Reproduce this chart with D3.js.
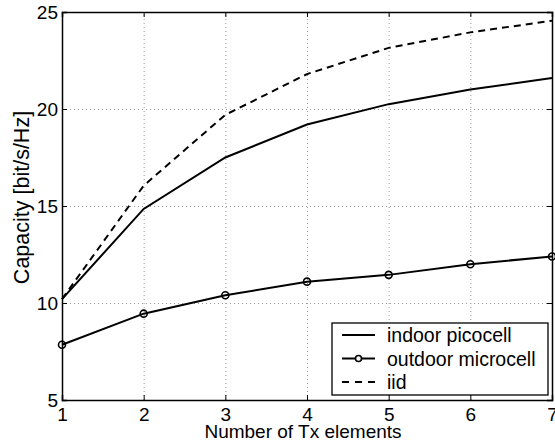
<!DOCTYPE html>
<html>
<head>
<meta charset="utf-8">
<script src="https://cdn.jsdelivr.net/npm/d3@7"></script>
<style>
  body { margin: 0; background: #fff; }
  svg { display: block; font-family: "Liberation Sans", Arial, Helvetica, sans-serif; }
</style>
</head>
<body>
<svg id="chart" width="555" height="447"></svg>
<script>
// Capacity versus number of transmit elements
const txElements = [1, 2, 3, 4, 5, 6, 7];
const indoorPicocell = [10.2, 14.85, 17.5, 19.2, 20.25, 21.0, 21.6];
const outdoorMicrocell = [7.85, 9.45, 10.4, 11.1, 11.45, 12.0, 12.4];
const iid = [10.2, 16.05, 19.7, 21.8, 23.15, 23.95, 24.55];
const xTicks = [1, 2, 3, 4, 5, 6, 7];
const yTicks = [5, 10, 15, 20, 25];
const seriesNames = ["indoor picocell", "outdoor microcell", "iid"];

(function draw() {
  const svg = d3.select("#chart");
  const m = { left: 62, right: 3, top: 12, bottom: 47 };
  const W = 555, H = 447;
  const x = d3.scaleLinear().domain([1, 7]).range([m.left, W - m.right]);
  const y = d3.scaleLinear().domain([5, 25]).range([H - m.bottom, m.top]);

  // dotted grid
  const grid = svg.append("g").attr("stroke", "#999").attr("stroke-width", 1)
    .attr("stroke-dasharray", "1,3");
  xTicks.slice(1, -1).forEach(t => grid.append("line")
    .attr("x1", x(t) + 0.5).attr("x2", x(t) + 0.5).attr("y1", y(5)).attr("y2", y(25)));
  yTicks.slice(1, -1).forEach(t => grid.append("line")
    .attr("x1", x(1)).attr("x2", x(7)).attr("y1", y(t) + 0.5).attr("y2", y(t) + 0.5));

  // axes with inward ticks on all four sides
  const fs = "19px";
  const axB = svg.append("g").attr("transform", `translate(0,${y(5)})`)
    .call(d3.axisBottom(x).tickValues(xTicks).tickSize(-5).tickPadding(8).tickFormat(d3.format("d")));
  const axT = svg.append("g").attr("transform", `translate(0,${y(25)})`)
    .call(d3.axisTop(x).tickValues(xTicks).tickSize(-5).tickFormat(""));
  const axL = svg.append("g").attr("transform", `translate(${x(1)},0)`)
    .call(d3.axisLeft(y).tickValues(yTicks).tickSize(-5).tickPadding(4));
  const axR = svg.append("g").attr("transform", `translate(${x(7)},0)`)
    .call(d3.axisRight(y).tickValues(yTicks).tickSize(-5).tickFormat(""));
  [axB, axT, axL, axR].forEach(g => {
    g.select(".domain").attr("stroke", "#000").attr("stroke-width", 1.5);
    g.selectAll(".tick line").attr("stroke", "#000");
    g.selectAll("text").attr("font-size", fs).attr("fill", "#000")
      .attr("font-family", "Liberation Sans, Arial, sans-serif");
  });

  // series lines
  const line = d3.line().x((d, i) => x(txElements[i])).y(d => y(d));
  svg.append("path").datum(indoorPicocell).attr("d", line)
    .attr("fill", "none").attr("stroke", "#000").attr("stroke-width", 2);
  svg.append("path").datum(iid).attr("d", line)
    .attr("fill", "none").attr("stroke", "#000").attr("stroke-width", 2)
    .attr("stroke-dasharray", "7,5");
  svg.append("path").datum(outdoorMicrocell).attr("d", line)
    .attr("fill", "none").attr("stroke", "#000").attr("stroke-width", 2);
  svg.selectAll("circle.om").data(outdoorMicrocell).join("circle").attr("class", "om")
    .attr("cx", (d, i) => x(txElements[i])).attr("cy", d => y(d)).attr("r", 3.5)
    .attr("fill", "none").attr("stroke", "#000").attr("stroke-width", 1.6);

  // axis titles
  svg.append("text").attr("x", 303).attr("y", 438)
    .attr("text-anchor", "middle").attr("font-size", "19px").text("Number of Tx elements");
  svg.append("text").attr("transform", `translate(29,197.5) rotate(-90)`)
    .attr("text-anchor", "middle").attr("font-size", "21.5px").text("Capacity [bit/s/Hz]");

  // legend
  const lg = svg.append("g").attr("transform", "translate(332,323)");
  lg.append("rect").attr("width", 216).attr("height", 72)
    .attr("fill", "#fff").attr("stroke", "#000").attr("stroke-width", 1.3);
  seriesNames.forEach((name, i) => {
    const ly = 12 + i * 23.5;
    const l = lg.append("line").attr("x1", 10).attr("x2", 43).attr("y1", ly).attr("y2", ly)
      .attr("stroke", "#000").attr("stroke-width", 2);
    if (i === 2) l.attr("stroke-dasharray", "7,6");
    if (i === 1) lg.append("circle").attr("cx", 26.5).attr("cy", ly).attr("r", 3)
      .attr("fill", "#fff").attr("stroke", "#000").attr("stroke-width", 1.6);
    lg.append("text").attr("x", 55).attr("y", ly + 7).attr("font-size", "19.5px").text(name);
  });
})();
</script>
</body>
</html>
